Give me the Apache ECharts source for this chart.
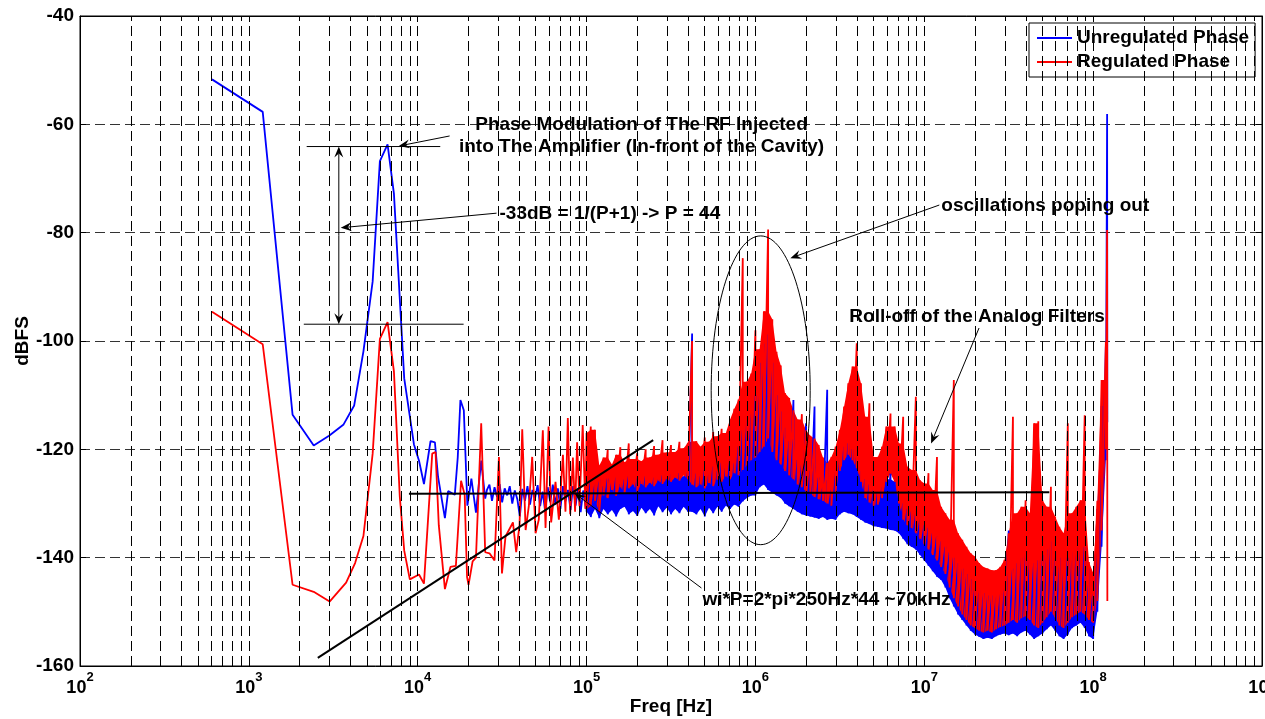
<!DOCTYPE html>
<html>
<head>
<meta charset="utf-8">
<script src="https://cdn.jsdelivr.net/npm/echarts@6/dist/echarts.min.js"></script>
<style>
html,body{margin:0;padding:0;background:#fff;overflow:hidden;width:1265px;height:719px;}
#chart{width:1265px;height:719px;display:block;position:absolute;left:0;top:0;}
</style>
</head>
<body>
<div id="chart"></div>
<script>
// ---------------- data ----------------
const yTicks = [-160, -140, -120, -100, -80, -60, -40];
const xDecades = [1e2, 1e3, 1e4, 1e5, 1e6, 1e7, 1e8, 1e9];
const xGridTicks = [2e2,3e2,4e2,5e2,6e2,7e2,8e2,9e2,1e3,2e3,3e3,4e3,5e3,6e3,7e3,8e3,9e3,1e4,2e4,3e4,4e4,5e4,6e4,7e4,8e4,9e4,1e5,2e5,3e5,4e5,5e5,6e5,7e5,8e5,9e5,1e6,2e6,3e6,4e6,5e6,6e6,7e6,8e6,9e6,1e7,2e7,3e7,4e7,5e7,6e7,7e7,8e7,9e7,1e8,2e8,3e8,4e8,5e8,6e8,7e8,8e8,9e8];

// Unregulated phase, low-frequency part (Hz, dBFS)
const unregLowFreq = [605,1208,1815,2421,2985,3640,4205,4770,5410,5970,6630,7230,8320,9500,10180,10890,11910,12640,13200,14490,15140,16580,17260,17900,18750,19690,20790,22130,23770,25100,
  25700,26600,27540,28510,29510,30550,31620,32730,33880,35080,36310,37580,38900,40270,41690,43150,44670,46240,47860,49550,51290,53090,54950,56890,58880,60950,63100,65310,67610,69980,72440,74990,77620,80350,83180,86100,89130,92260,95500,98860];
const unregLowDb = [-51.7,-57.7,-113.6,-119.3,-117.5,-115.4,-111.9,-101.9,-89,-66.8,-63.7,-72.8,-106.9,-119.1,-122.1,-126.4,-118.5,-118.7,-125.1,-132.7,-127.7,-128.4,-121.5,-110.9,-112.8,-130.4,-125.4,-131.7,-122.1,-129.1,
  -127.5,-126.5,-129.5,-127,-128.8,-126.4,-129.8,-127.2,-128.5,-126.8,-130,-127.6,-129.2,-132.4,-127.3,-129.5,-126.8,-130.2,-127.5,-129,-126.6,-130.5,-127.8,-131.5,-127,-129.8,-126.5,-130.2,-127.2,-131,-126.8,-129.6,-127.5,-131.2,-126.8,-130.4,-127.2,-131.6,-127.6,-130.8];

// Regulated phase, low-frequency part (Hz, dBFS)
const regLowFreq = [605,1208,1815,2421,3007,3767,4257,4770,5410,5970,6630,7230,7830,8320,8980,10180,10890,12190,12750,13330,14490,15630,16830,18060,18970,19600,20000,21140,22130,23770,25100,
  26600,28500,30270,31550,33100,36640,38300,40090,41590,43550,45500,47640,49890,52120,55080,57150,59570,61700,65460,68550,72440,74990,77450,79980,82980,85500,87900,90780,94860,98400];
const regLowDb = [-94.6,-100.6,-145,-146.3,-148.1,-144.6,-141,-136,-120.8,-99.6,-96.5,-105.6,-128.7,-138.7,-144,-143.1,-144.8,-120.8,-120.5,-134,-145.8,-141.7,-141.5,-125.8,-128.4,-143.6,-145,-140.7,-140,-115.2,-139,
  -139.2,-140.5,-121.4,-142.9,-136.1,-133.5,-139,-134,-116.3,-134.9,-130.5,-121.4,-135.5,-133,-116.5,-134.5,-115.8,-133.5,-126,-133,-121,-131.5,-114.2,-132,-121.5,-131.5,-118.7,-130.5,-115.5,-131];

// Dense (noisy) band 100 kHz .. 120 MHz: upper and lower extent of each trace at each frequency
const bandFreq = [
  1.000e5,1.059e5,1.122e5,1.189e5,1.259e5,1.334e5,1.413e5,1.496e5,1.585e5,1.679e5,1.778e5,1.884e5,1.995e5,2.113e5,2.239e5,2.371e5,2.512e5,2.661e5,2.818e5,2.985e5,
  3.162e5,3.350e5,3.548e5,3.758e5,3.981e5,4.217e5,4.467e5,4.732e5,5.012e5,5.309e5,5.623e5,5.957e5,6.310e5,6.683e5,7.079e5,7.499e5,7.943e5,8.414e5,8.913e5,9.441e5,
  1.000e6,1.059e6,1.122e6,1.189e6,1.259e6,1.334e6,1.413e6,1.496e6,1.585e6,1.679e6,1.778e6,1.884e6,1.995e6,2.113e6,2.239e6,2.371e6,2.512e6,2.661e6,2.818e6,2.985e6,
  3.162e6,3.350e6,3.548e6,3.758e6,3.981e6,4.217e6,4.467e6,4.732e6,5.012e6,5.309e6,5.623e6,5.957e6,6.310e6,6.683e6,7.079e6,7.499e6,7.943e6,8.414e6,8.913e6,9.441e6,
  1.000e7,1.059e7,1.122e7,1.189e7,1.259e7,1.334e7,1.413e7,1.496e7,1.585e7,1.679e7,1.778e7,1.884e7,1.995e7,2.113e7,2.239e7,2.371e7,2.512e7,2.661e7,2.818e7,2.985e7,
  3.162e7,3.350e7,3.548e7,3.758e7,3.981e7,4.217e7,4.467e7,4.732e7,5.012e7,5.309e7,5.623e7,5.957e7,6.310e7,6.683e7,7.079e7,7.499e7,7.943e7,8.414e7,8.913e7,9.441e7,
  1.000e8,1.059e8,1.122e8,1.189e8];
const regBandHi = [
  -117,-115.8,-116.4,-123,-121.5,-120.1,-122.8,-121,-119.6,-122.4,-118.9,-121.8,-120.7,-122.2,-120,-121.5,-119.4,-121,-118.3,-120.6,
  -119.2,-120.5,-118.6,-119.8,-118.8,-100,-118.5,-119.5,-117.8,-118.6,-116.8,-117.6,-116.2,-117,-114.5,-112.5,-110.8,-84.7,-107.5,-106,
  -98,-101.5,-94.5,-79.4,-96,-102,-104.5,-109.6,-110.5,-112.8,-114.5,-113.5,-116.5,-117.5,-118,-119.2,-121.5,-122.5,-121.4,-119.5,
  -116.4,-112.1,-107.8,-104.7,-100.4,-107.8,-114,-111.5,-121.4,-121.4,-119.5,-115.8,-113.4,-115.8,-118.9,-114,-123.2,-123.8,-110.3,-125.7,
  -126.3,-124.4,-127.5,-121.4,-130.6,-131.8,-133,-107.2,-135.5,-136.7,-138,-139.2,-139.8,-141,-141.7,-142,-142.3,-142.3,-141.7,-140.4,
  -135.5,-114,-131.8,-130.6,-129.4,-131.8,-115.2,-114.8,-129.4,-130.6,-126.9,-132.4,-134.3,-135.5,-115.2,-131.8,-130.6,-129.4,-113.7,-140.8,
  -142.8,-129.5,-107.2,-100.2];
const regBandLo = [
  -131,-130.5,-129.5,-131.5,-128.5,-129,-127.5,-128.6,-127,-128,-127.2,-126.5,-127.8,-126.4,-127,-126.2,-126.8,-125.8,-126.4,-125.5,
  -126,-125.2,-125.8,-124.8,-125.5,-126.5,-127,-126.5,-127.2,-126.2,-126.8,-125.6,-126,-125,-125.5,-124.4,-124.8,-123.8,-123,-122,
  -121.5,-120.5,-119.5,-118,-120.5,-122,-122.8,-124,-124.8,-125.5,-126.5,-127,-127.8,-128.2,-128.8,-129.2,-129.5,-130,-130.4,-128,
  -124,-122,-121,-122,-123.5,-126,-129,-129.8,-130.4,-130.2,-129,-126,-124.5,-126,-130,-133,-134,-134.5,-135.5,-136.5,
  -137.5,-138.5,-139.5,-140.5,-141.7,-143,-145.5,-147.5,-149,-150.5,-151.5,-152.5,-153,-153.5,-153.8,-153.5,-153.8,-153.2,-152.8,-152.5,
  -152,-151.5,-152,-151.2,-150.8,-151.5,-152.5,-153,-152,-151,-150,-151,-152.5,-153,-152,-151,-150.5,-150,-150.5,-151.5,
  -152,-148,-135,-120];
const unregBandHi = [
  -126.5,-125.8,-126.5,-125.5,-126.8,-125.4,-126,-125.2,-126.4,-125.6,-125,-126.2,-125.4,-125.8,-125,-126,-125.2,-125.6,-124.8,-125.4,
  -124.6,-125.2,-124.4,-125,-124.2,-98.6,-124.5,-125,-123.8,-124.6,-123.2,-124,-122.5,-123.4,-121.8,-122.6,-119.5,-116.5,-114.5,-113.5,
  -110,-104,-100.5,-98.8,-104,-110,-113,-116,-118.5,-110.9,-122,-122.8,-115.2,-124,-112.1,-125.2,-127,-109,-127.5,-124,
  -121.5,-119.5,-118.9,-120,-121.5,-124,-125.5,-126.5,-127.5,-127.8,-127,-125.5,-124.4,-126,-128,-130,-131,-131.5,-132,-133,
  -134,-134.5,-135.5,-136,-137,-138,-139,-140,-141,-142,-143,-144,-145,-146,-146.5,-147,-147,-147,-146.5,-145.5,
  -135,-142,-141,-140,-139.5,-140,-141,-140.5,-139.5,-138.5,-137,-139,-140,-141,-140,-139,-138,-137.5,-138,-142,
  -144,-131,-112,-101];
const unregBandLo = [
  -131.5,-132.5,-131,-132.7,-131,-132,-131.2,-132.4,-131,-130.6,-132,-131.4,-132.3,-130.8,-131.8,-131,-132.2,-130.5,-131.6,-130.8,
  -132,-131,-131.8,-130.6,-131.5,-131.5,-132,-131,-132.4,-130.8,-131.8,-130.6,-131.5,-130.4,-131,-130.2,-130.6,-129.6,-129,-128.5,
  -128.5,-127,-126.5,-127.5,-128,-128.5,-129,-130,-130.5,-131,-131.5,-132,-132.2,-132.4,-132.6,-132.8,-132.5,-133,-132.8,-133,
  -132,-131.5,-131.8,-132,-132.5,-133,-133.5,-133.8,-134.2,-134.3,-134.5,-134.6,-134.9,-135,-135.5,-136.5,-137.5,-138,-138.5,-139.5,
  -140.5,-141.5,-142.5,-143.5,-144.1,-145.5,-147.5,-149,-150.5,-151.5,-152.5,-153.5,-154.2,-154.6,-155,-154.8,-155,-154.5,-154.2,-154,
  -154.3,-154,-154.5,-153.8,-153.5,-154.2,-155,-154.5,-154,-153.2,-152.5,-153.5,-154.5,-155,-154.2,-153,-152.5,-152,-153,-154.5,
  -155,-150,-138,-122];

// final carrier spike (~121 MHz)
const unregTailFreq = [1.210e8, 1.213e8];
const unregTailDb = [-58.1, -115];
const regTailFreq = [1.210e8, 1.214e8];
const regTailDb = [-79.5, -148];

// annotations (data coordinates: Hz, dBFS)
const refLineFlat = [[8870, -128.2], [5.5e7, -127.9]];
const refLineSlope = [[2560, -158.5], [2.48e5, -118.3]];
const levelLineTop = [[2200, -64.1], [13600, -64.1]];
const levelLineBottom = [[2115, -96.9], [18700, -96.9]];
const arrowFrom = [[15450, -62.15], [3410, -80.5], [3410, -80.5], [29300, -76.4], [1.227e7, -74.9], [2.11e7, -97.6], [4.79e5, -145.6]];
const arrowTo   = [[7730, -64.0], [3410, -64.1], [3410, -96.9], [3500, -79.1], [1.61e6, -84.7], [1.097e7, -118.9], [84900, -128.1]];
const ellipseCorner1 = [5.47e5, -137.6];
const ellipseCorner2 = [2.11e6, -80.6];
const noteTexts = [
  'Phase Modulation of The RF Injected\ninto The Amplifier (In-front of the Cavity)',
  '-33dB = 1/(P+1) -> P = 44',
  'oscillations poping out',
  'Roll-off of the Analog Filters',
  'wi*P=2*pi*250Hz*44 ~70kHz'
];
const noteAnchors = [[2.116e5, -62.2], [30500, -76.6], [1.261e7, -75.1], [3.597e6, -95.6], [4.853e5, -147.8]];
const noteAlign = ['center', 'left', 'left', 'left', 'left'];

// ---------------- build ----------------
const FONT = '"Liberation Sans", Arial, Helvetica, sans-serif';
function pairs(fx, fy) { return fx.map((f, i) => [f, fy[i]]); }
function zig(f, hi, lo) {
  const out = [];
  for (let i = 0; i < f.length; i++) { out.push([f[i], hi[i]]); out.push([f[i], lo[i]]); }
  return out;
}
const unregData = pairs(unregLowFreq, unregLowDb).concat(zig(bandFreq, unregBandHi, unregBandLo), pairs(unregTailFreq, unregTailDb));
const regData = pairs(regLowFreq, regLowDb).concat(zig(bandFreq, regBandHi, regBandLo), pairs(regTailFreq, regTailDb));

// solid body of a band: isolated narrow spikes are left to the trace line itself
function bandFill(hi, lo, color) {
  return {
    type: 'custom', z: 3, silent: true, clip: true,
    data: [[bandFreq[0], hi[0]]],
    renderItem: function (params, api) {
      const n = bandFreq.length, pts = [];
      for (let i = 0; i < n; i++) {
        const a = i > 0 ? hi[i - 1] : hi[i + 1];
        const b = i < n - 1 ? hi[i + 1] : hi[i - 1];
        const top = Math.max(lo[i], Math.min(hi[i], Math.max(a, b)));
        pts.push(api.coord([bandFreq[i], top]));
      }
      for (let i = n - 1; i >= 0; i--) pts.push(api.coord([bandFreq[i], lo[i]]));
      return { type: 'polygon', shape: { points: pts }, style: { fill: color, stroke: null } };
    }
  };
}
function annoLine(d, w) {
  return { type: 'line', z: 10, silent: true, data: d, symbol: 'none', lineStyle: { color: '#000', width: w }, clip: false };
}

const chart = echarts.init(document.getElementById('chart'), null, { renderer: 'canvas', width: 1265, height: 719 });
const option = {
  animation: false,
  backgroundColor: '#fff',
  grid: { left: 80, right: 3, top: 16, bottom: 53, outerBoundsMode: 'none', containLabel: false,
    show: true, borderColor: '#000', borderWidth: 1, backgroundColor: '#fff' },
  legend: {
    data: [{ name: 'Unregulated Phase', icon: 'rect' }, { name: 'Regulated Phase', icon: 'rect' }],
    orient: 'vertical', left: 1029, top: 23, itemWidth: 35, itemHeight: 2, itemGap: 2,
    padding: [4, 6, 4, 8], borderColor: '#000', borderWidth: 1, backgroundColor: '#fff', selectedMode: false,
    textStyle: { fontFamily: FONT, fontWeight: 'bold', fontSize: 19, color: '#000', lineHeight: 22 }
  },
  xAxis: [{
    type: 'log', logBase: 10, min: xDecades[0], max: xDecades[xDecades.length - 1],
    axisLine: { show: true, onZero: false, lineStyle: { color: '#000', width: 1 } },
    axisTick: { show: true, inside: true, length: 6, lineStyle: { color: '#000' } },
    splitLine: { show: false },
    axisLabel: {
      margin: 5, color: '#000',
      formatter: function (v) { return '{b|10}{s|' + Math.round(Math.log10(v)) + '}'; },
      rich: {
        b: { fontFamily: FONT, fontWeight: 'bold', fontSize: 18, color: '#000', lineHeight: 34 },
        s: { fontFamily: FONT, fontWeight: 'bold', fontSize: 13, color: '#000', lineHeight: 14, verticalAlign: 'top' }
      }
    },
    name: 'Freq [Hz]', nameLocation: 'middle', nameGap: 31, nameMoveOverlap: false,
    nameTextStyle: { fontFamily: FONT, fontWeight: 'bold', fontSize: 19, color: '#000' }
  }, {
    type: 'log', logBase: 10, min: xDecades[0], max: xDecades[xDecades.length - 1], position: 'top',
    axisLine: { show: true, lineStyle: { color: '#000' } },
    axisTick: { show: true, inside: true, length: 6, lineStyle: { color: '#000' } },
    axisLabel: { show: false }, splitLine: { show: false }
  }],
  yAxis: [{
    type: 'value', min: yTicks[0], max: yTicks[yTicks.length - 1], interval: yTicks[1] - yTicks[0],
    axisLine: { show: true, lineStyle: { color: '#000', width: 1 } },
    axisTick: { show: true, inside: true, length: 6, lineStyle: { color: '#000' } },
    splitLine: { show: true, lineStyle: { type: [10, 5], color: '#333', width: 1 } },
    axisLabel: { fontFamily: FONT, fontWeight: 'bold', fontSize: 19, color: '#000', margin: 6 },
    name: 'dBFS', nameLocation: 'middle', nameGap: 48, nameRotate: 90, nameMoveOverlap: false,
    nameTextStyle: { fontFamily: FONT, fontWeight: 'bold', fontSize: 19, color: '#000' }
  }, {
    type: 'value', min: yTicks[0], max: yTicks[yTicks.length - 1], interval: yTicks[1] - yTicks[0], position: 'right',
    axisLine: { show: true, lineStyle: { color: '#000' } },
    axisTick: { show: true, inside: true, length: 6, lineStyle: { color: '#000' } },
    axisLabel: { show: false }, splitLine: { show: false }
  }],
  series: [
    {
      type: 'line', z: 1, silent: true, data: [], symbol: 'none',
      markLine: {
        silent: true, symbol: ['none', 'none'], label: { show: false }, animation: false,
        lineStyle: { type: [10, 5], color: '#000', width: 1 },
        data: xGridTicks.map(v => ({ xAxis: v }))
      }
    },
    bandFill(unregBandHi, unregBandLo, '#0000ff'),
    {
      name: 'Unregulated Phase', type: 'line', z: 3, data: unregData, symbol: 'none', showSymbol: false,
      color: '#0000ff', lineStyle: { color: '#0000ff', width: 1.8 }, sampling: null
    },
    bandFill(regBandHi, regBandLo, '#ff0000'),
    {
      name: 'Regulated Phase', type: 'line', z: 3, data: regData, symbol: 'none', showSymbol: false,
      color: '#ff0000', lineStyle: { color: '#ff0000', width: 1.8 }, sampling: null
    },
    annoLine(refLineFlat, 2),
    annoLine(refLineSlope, 2),
    annoLine(levelLineTop, 1),
    annoLine(levelLineBottom, 1),
    {
      type: 'custom', z: 11, silent: true, clip: false,
      data: arrowFrom,
      renderItem: function (params, api) {
        const i = params.dataIndex;
        const p0 = api.coord(arrowFrom[i]), p1 = api.coord(arrowTo[i]);
        const dx = p1[0] - p0[0], dy = p1[1] - p0[1];
        const L = Math.hypot(dx, dy) || 1;
        const ux = dx / L, uy = dy / L;
        const len = 11, hw = 4.5, back = 7;
        const bx = p1[0] - ux * len, by = p1[1] - uy * len;
        const left = [bx - uy * hw, by + ux * hw], right = [bx + uy * hw, by - ux * hw];
        const notch = [p1[0] - ux * back, p1[1] - uy * back];
        return {
          type: 'group', children: [
            { type: 'line', shape: { x1: p0[0], y1: p0[1], x2: notch[0], y2: notch[1] }, style: { stroke: '#000', lineWidth: 1 } },
            { type: 'polygon', shape: { points: [p1, left, notch, right] }, style: { fill: '#000' } }
          ]
        };
      }
    },
    {
      type: 'custom', z: 11, silent: true, clip: false,
      data: [ellipseCorner1],
      renderItem: function (params, api) {
        const a = api.coord(ellipseCorner1), b = api.coord(ellipseCorner2);
        return {
          type: 'ellipse',
          shape: { cx: (a[0] + b[0]) / 2, cy: (a[1] + b[1]) / 2, rx: Math.abs(b[0] - a[0]) / 2, ry: Math.abs(b[1] - a[1]) / 2 },
          style: { fill: null, stroke: '#000', lineWidth: 1 }
        };
      }
    },
    {
      type: 'custom', z: 12, silent: true, clip: false,
      data: noteAnchors,
      renderItem: function (params, api) {
        const i = params.dataIndex;
        const p = api.coord(noteAnchors[i]);
        return {
          type: 'text', x: p[0], y: p[1],
          style: { text: noteTexts[i], fill: '#000', font: 'bold 19px ' + FONT, align: noteAlign[i], verticalAlign: 'middle', lineHeight: 22 }
        };
      }
    }
  ]
};
chart.setOption(option);
</script>
</body>
</html>
